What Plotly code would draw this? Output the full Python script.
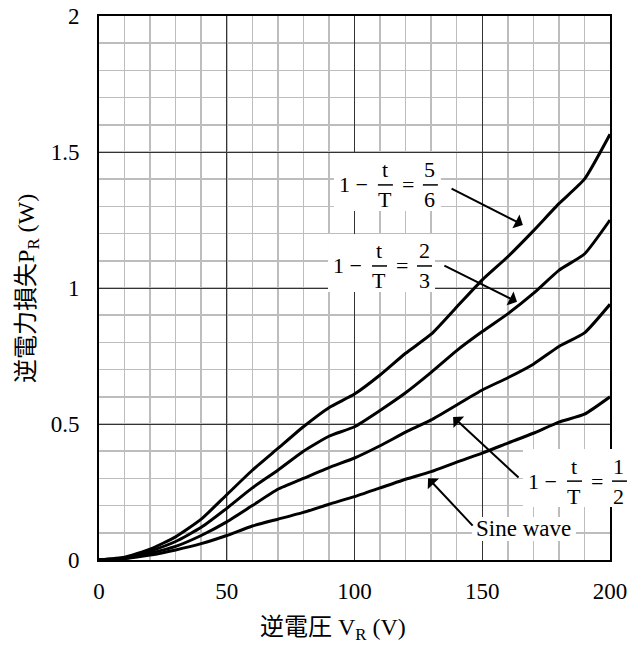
import plotly.graph_objects as go

# ---------------- data ----------------
voltage = [0, 10, 20, 30, 40, 50, 60, 70, 80, 90, 100,
           110, 120, 130, 140, 150, 160, 170, 180, 190, 200]
p_ratio_5_6 = [0, 0.010, 0.040, 0.085, 0.150, 0.240, 0.330, 0.410, 0.490, 0.560, 0.610,
               0.680, 0.760, 0.830, 0.930, 1.030, 1.115, 1.210, 1.310, 1.400, 1.565]
p_ratio_2_3 = [0, 0.008, 0.033, 0.068, 0.120, 0.190, 0.265, 0.330, 0.400, 0.455, 0.490,
               0.550, 0.615, 0.690, 0.770, 0.840, 0.905, 0.980, 1.065, 1.125, 1.250]
p_ratio_1_2 = [0, 0.006, 0.025, 0.050, 0.090, 0.140, 0.200, 0.260, 0.300, 0.340, 0.375,
               0.420, 0.470, 0.515, 0.570, 0.625, 0.670, 0.720, 0.785, 0.835, 0.940]
p_sine = [0, 0.005, 0.018, 0.037, 0.060, 0.090, 0.125, 0.150, 0.175, 0.205, 0.233,
          0.265, 0.297, 0.325, 0.360, 0.393, 0.430, 0.466, 0.507, 0.536, 0.600]

x_tick_vals = [0, 50, 100, 150, 200]
x_tick_text = ["0", "50", "100", "150", "200"]
y_tick_vals = [0, 0.5, 1, 1.5, 2]
y_tick_text = ["0", "0.5", "1", "1.5", "2"]

x_title = "逆電圧 V<sub>R</sub> (V)"
y_title = "逆電力損失P<sub>R</sub> (W)"

# label definitions: (numerator, denominator, anchor x, anchor y, arrow tail, arrow head)
frac_labels = [
    ("5", "6", 93.5, 1.379, (137.4, 1.368), (165.9, 1.232)),
    ("2", "3", 91.2, 1.081, (134.6, 1.085), (163.6, 0.949)),
    ("1", "2", 167.5, 0.290, (164.8, 0.298), (138.6, 0.526)),
]
sine_label = ("Sine wave", 166.3, 0.114, (146.8, 0.121), (128.8, 0.301))

X_MAX, Y_MAX = 200, 2

SERIF = "Liberation Serif, Times New Roman, serif"
CJK = "Liberation Serif, Noto Sans CJK JP, serif"

fig = go.Figure()
for series in [p_ratio_5_6, p_ratio_2_3, p_ratio_1_2, p_sine]:
    fig.add_trace(go.Scatter(
        x=voltage, y=series, mode="lines",
        line=dict(color="black", width=3, shape="spline", smoothing=0.5),
        hoverinfo="skip", showlegend=False))

axis_common = dict(
    showgrid=True, gridcolor="#333333", gridwidth=1,
    showline=True, linecolor="black", linewidth=2, mirror=True,
    ticks="", zeroline=False, fixedrange=True,
    tickfont=dict(family=SERIF, size=23, color="black"),
)

fig.update_xaxes(range=[0, X_MAX], tickvals=x_tick_vals, ticktext=x_tick_text,
                 minor=dict(dtick=10, tick0=0, showgrid=True, gridcolor="#bdbdbd", gridwidth=1.5),
                 ticklabelstandoff=9, **axis_common)
fig.update_yaxes(range=[0, Y_MAX], tickvals=y_tick_vals, ticktext=y_tick_text,
                 minor=dict(dtick=0.1, tick0=0, showgrid=True, gridcolor="#bdbdbd", gridwidth=1.5),
                 ticklabelstandoff=13, **axis_common)

annotations = []
shapes = []

# axis titles
annotations.append(dict(text=x_title, xref="paper", yref="paper", x=0.458, y=-0.127,
                        xanchor="center", yanchor="middle", showarrow=False,
                        font=dict(family=CJK, size=24, color="black")))
annotations.append(dict(text=y_title, xref="paper", yref="paper", x=-0.139, y=0.5,
                        xanchor="center", yanchor="middle", showarrow=False, textangle=-90,
                        font=dict(family=CJK, size=24, color="black")))

LF = dict(family=SERIF, size=22, color="black")


def pshape(kind, ax, ay, x0, x1, y0, y1, **kw):
    d = dict(type=kind, xref="paper", yref="paper", xsizemode="pixel", ysizemode="pixel",
             xanchor=ax / X_MAX, yanchor=ay / Y_MAX, x0=x0, x1=x1, y0=y0, y1=y1, layer="above")
    d.update(kw)
    return d


def txt(text, ax, ay, xs, ys, xanchor="center"):
    return dict(text=text, x=ax, y=ay, xref="x", yref="y", xshift=xs, yshift=ys,
                xanchor=xanchor, yanchor="middle", showarrow=False, font=LF)


for num, den, ax, ay, tail, head in frac_labels:
    shapes.append(pshape("rect", ax, ay, -4, 103, -26, 32, fillcolor="white", line=dict(width=0)))
    annotations.append(txt("1 −", ax, ay, -1, 0, xanchor="left"))
    annotations.append(txt("t", ax, ay, 47, 15))
    annotations.append(txt("T", ax, ay, 47, -15))
    annotations.append(txt("=", ax, ay, 70, 0))
    annotations.append(txt(num, ax, ay, 92, 15))
    annotations.append(txt(den, ax, ay, 92, -15))
    shapes.append(pshape("line", ax, ay, 40, 55, 0, 0, line=dict(color="black", width=1.5)))
    shapes.append(pshape("line", ax, ay, 85, 100, 0, 0, line=dict(color="black", width=1.5)))
    annotations.append(dict(text="", x=head[0], y=head[1], ax=tail[0], ay=tail[1],
                            xref="x", yref="y", axref="x", ayref="y", showarrow=True,
                            arrowhead=1, arrowsize=1.3, arrowwidth=2, arrowcolor="black"))

s_text, sx, sy, s_tail, s_head = sine_label
shapes.append(pshape("rect", sx, sy, -52, 52, -12, 12, fillcolor="white", line=dict(width=0)))
annotations.append(dict(text=s_text, x=sx, y=sy, xref="x", yref="y", showarrow=False,
                        xanchor="center", yanchor="middle", font=dict(family=SERIF, size=23, color="black")))
annotations.append(dict(text="", x=s_head[0], y=s_head[1], ax=s_tail[0], ay=s_tail[1],
                        xref="x", yref="y", axref="x", ayref="y", showarrow=True,
                        arrowhead=1, arrowsize=1.3, arrowwidth=2, arrowcolor="black"))

fig.update_layout(
    width=641, height=650,
    margin=dict(l=99, r=31, t=16, b=90, autoexpand=False),
    paper_bgcolor="white", plot_bgcolor="white",
    annotations=annotations, shapes=shapes,
    showlegend=False,
)

fig.write_html("out.html", config={"displayModeBar": False, "staticPlot": True},
               post_script="document.body.style.margin='0';document.body.style.padding='0';")
